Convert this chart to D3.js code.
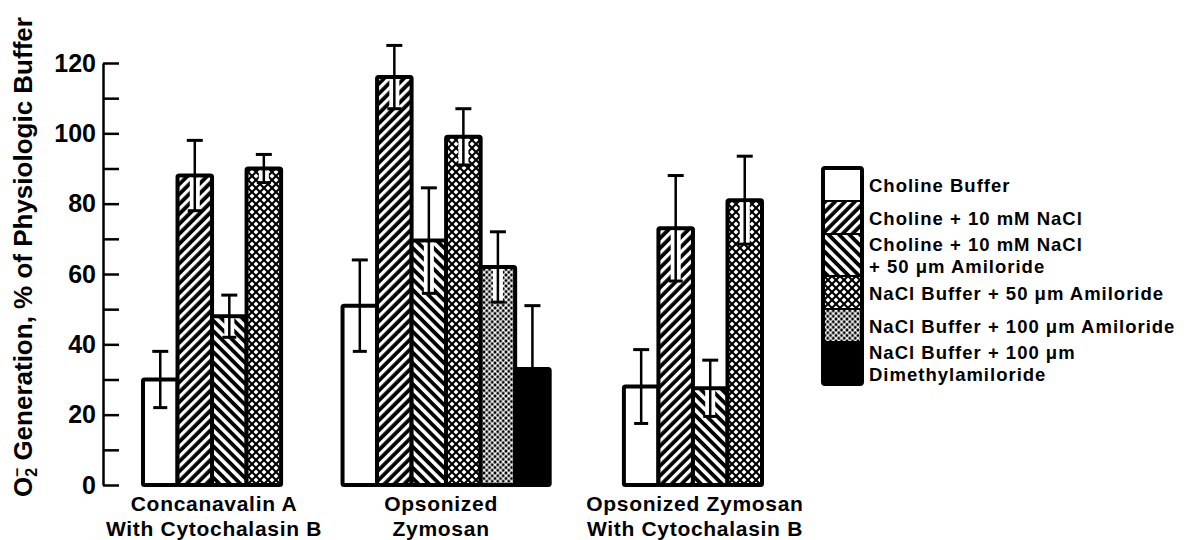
<!DOCTYPE html>
<html><head><meta charset="utf-8">
<script src="https://cdn.jsdelivr.net/npm/d3@7"></script>
<style>
body{margin:0;background:#fff;}
text{font-family:"Liberation Sans",Arial,Helvetica,sans-serif;font-weight:bold;fill:#000;}
</style>
</head><body>
<svg id="chart" width="1192" height="540"></svg>
<script>
// ---- data ----
const groupLabels = [
  ["Concanavalin A", "With Cytochalasin B"],
  ["Opsonized", "Zymosan"],
  ["Opsonized Zymosan", "With Cytochalasin B"]
];
const seriesLabels = [
  ["Choline Buffer"],
  ["Choline + 10 mM NaCl"],
  ["Choline + 10 mM NaCl", "+ 50 \u03bcm Amiloride"],
  ["NaCl Buffer + 50 \u03bcm Amiloride"],
  ["NaCl Buffer + 100 \u03bcm Amiloride"],
  ["NaCl Buffer + 100 \u03bcm", "Dimethylamiloride"]
];
const conAValues = [30, 88, 48, 90];
const conAErrors = [8, 10, 6, 4];
const opzValues = [51, 116, 69.5, 99, 62, 33];
const opzErrors = [13, 9, 15, 8, 10, 18];
const opzCytoValues = [28, 73, 27.5, 81];
const opzCytoErrors = [10.5, 15, 8, 12.5];
const yTickValues = [0, 10, 20, 30, 40, 50, 60, 70, 80, 90, 100, 110, 120];
const yTickLabels = ["0", "", "20", "", "40", "", "60", "", "80", "", "100", "", "120"];
const yTitle = " Generation, % of Physiologic Buffer";

// ---- layout constants ----
const groupStartUnits = [0, 5.78, 13.93];
const svg = d3.select("#chart");
const x = d3.scaleLinear().domain([0, 17.93]).range([143, 762]);
const y = d3.scaleLinear().domain([0, 120]).range([485, 63]);
const bw = x(1) - x(0);

// ---- patterns ----
const defs = svg.append("defs");
function stripes(id, angle, period, white) {
  const p = defs.append("pattern").attr("id", id).attr("patternUnits", "userSpaceOnUse")
    .attr("width", period).attr("height", period).attr("patternTransform", `rotate(${angle})`);
  p.append("rect").attr("width", period).attr("height", period).attr("fill", "#000");
  p.append("rect").attr("x", 0).attr("width", white).attr("height", period).attr("fill", "#fff");
}
stripes("diag", 45, 7, 3.2);
stripes("bdiag", -45, 7.4, 3.6);
{
  const s = 8, h = 2.5;
  const p = defs.append("pattern").attr("id", "cross").attr("patternUnits", "userSpaceOnUse")
    .attr("width", s).attr("height", s);
  p.append("rect").attr("width", s).attr("height", s).attr("fill", "#000");
  [[0,0],[s,0],[0,s],[s,s],[s/2,s/2]].forEach(([cx,cy]) => {
    p.append("path").attr("d", `M${cx-h},${cy}L${cx},${cy-h}L${cx+h},${cy}L${cx},${cy+h}Z`).attr("fill", "#fff");
  });
}
{
  const s = 5.5, r = 1.5;
  const p = defs.append("pattern").attr("id", "dots").attr("patternUnits", "userSpaceOnUse")
    .attr("width", s).attr("height", s);
  p.append("rect").attr("width", s).attr("height", s).attr("fill", "#fff");
  [[0,0],[s,0],[0,s],[s,s],[s/2,s/2]].forEach(([cx,cy]) => {
    p.append("circle").attr("cx", cx).attr("cy", cy).attr("r", r).attr("fill", "#000");
  });
}
const fills = ["#fff", "url(#diag)", "url(#bdiag)", "url(#cross)", "url(#dots)", "#000"];

// ---- bars ----
const groups = [
  {values: conAValues, errors: conAErrors},
  {values: opzValues, errors: opzErrors},
  {values: opzCytoValues, errors: opzCytoErrors}
];
const bars = [];
groups.forEach((g, gi) => {
  g.values.forEach((v, i) => bars.push({g: gi, s: i, v, e: g.errors[i], u: groupStartUnits[gi] + i}));
});

const barG = svg.append("g");
barG.selectAll("rect").data(bars).join("rect")
  .attr("x", d => x(d.u)).attr("width", bw)
  .attr("y", d => y(d.v)).attr("height", d => y(0) - y(d.v))
  .attr("fill", d => fills[d.s]).attr("stroke", "#000").attr("stroke-width", 4)
  .attr("stroke-linejoin", "round").attr("rx", 1.5);

// error bars
const errG = svg.append("g").attr("stroke", "#000").attr("stroke-width", 2.5);
bars.forEach(d => {
  const cx = x(d.u) + bw / 2;
  if (d.s !== 0 && d.s !== 5) {
    svg.insert("rect", () => errG.node()).attr("x", cx - 5).attr("width", 10)
      .attr("y", y(d.v) + 2).attr("height", Math.max(0, y(d.v - d.e) - y(d.v) - 1)).attr("fill", "#fff");
  }
  errG.append("line").attr("x1", cx).attr("x2", cx).attr("y1", y(d.v + d.e)).attr("y2", y(d.v - d.e));
  errG.append("line").attr("x1", cx - 8).attr("x2", cx + 8).attr("y1", y(d.v + d.e)).attr("y2", y(d.v + d.e)).attr("stroke-width", 3);
  errG.append("line").attr("x1", cx - 7).attr("x2", cx + 7).attr("y1", y(d.v - d.e)).attr("y2", y(d.v - d.e)).attr("stroke-width", 3);
});

// ---- y axis ----
const yAxis = d3.axisLeft(y).tickValues(yTickValues)
  .tickFormat((d, i) => yTickLabels[i]).tickSizeInner(-16).tickSizeOuter(0).tickPadding(7);
const ax = svg.append("g").attr("transform", "translate(103,0)").call(yAxis);
ax.select(".domain").attr("stroke-width", 2.5).attr("stroke", "#000");
ax.selectAll(".tick line").attr("stroke-width", 2.5).attr("stroke", "#000");
ax.selectAll(".tick text").attr("font-size", 25).attr("font-family", "Liberation Sans, Arial, sans-serif")
  .attr("font-weight", "bold").attr("fill", "#000");

// y title
const yt = svg.append("text").attr("transform", "translate(32,257) rotate(-90)")
  .attr("text-anchor", "middle").attr("font-size", 26);
yt.append("tspan").text("O");
yt.append("tspan").attr("font-size", 16).attr("dy", 5).text("2");
yt.append("tspan").attr("font-size", 16).attr("dx", -9).attr("dy", -15).text("\u2013");
yt.append("tspan").attr("dy", 10).text(yTitle);

// ---- x labels ----
groupLabels.forEach((lines, gi) => {
  const n = groups[gi].values.length;
  const cx = x(groupStartUnits[gi] + n / 2) + (gi === 1 ? -5 : 2);
  lines.forEach((t, li) => {
    svg.append("text").attr("x", cx).attr("y", 511 + li * 24.5).attr("text-anchor", "middle")
      .attr("font-size", 21).attr("letter-spacing", 0.7).text(t);
  });
});

// ---- legend ----
const lg = svg.append("g");
let ly = 168;
const lx = 823, lw = 39;
const segs = [];
seriesLabels.forEach((lines, i) => {
  const h = lines.length === 1 ? 33 : 42;
  segs.push({i, lines, y0: ly, h});
  ly += h;
});
lg.selectAll("rect.seg").data(segs).join("rect").attr("class", "seg")
  .attr("x", lx).attr("y", d => d.y0).attr("width", lw).attr("height", d => d.h)
  .attr("fill", d => fills[d.i]);
segs.slice(1).forEach(d => {
  lg.append("line").attr("x1", lx).attr("x2", lx + lw).attr("y1", d.y0).attr("y2", d.y0)
    .attr("stroke", "#000").attr("stroke-width", 2);
});
lg.append("rect").attr("x", lx).attr("y", 168).attr("width", lw).attr("height", ly - 168)
  .attr("fill", "none").attr("stroke", "#000").attr("stroke-width", 4).attr("rx", 2);
segs.forEach(d => {
  const c = d.y0 + d.h / 2;
  d.lines.forEach((t, li) => {
    const base = d.lines.length === 1 ? c + 7 : c - 4 + li * 21.5;
    lg.append("text").attr("x", 869).attr("y", base).attr("font-size", 18.5)
      .attr("letter-spacing", 1).text(t);
  });
});
</script>
</body></html>
